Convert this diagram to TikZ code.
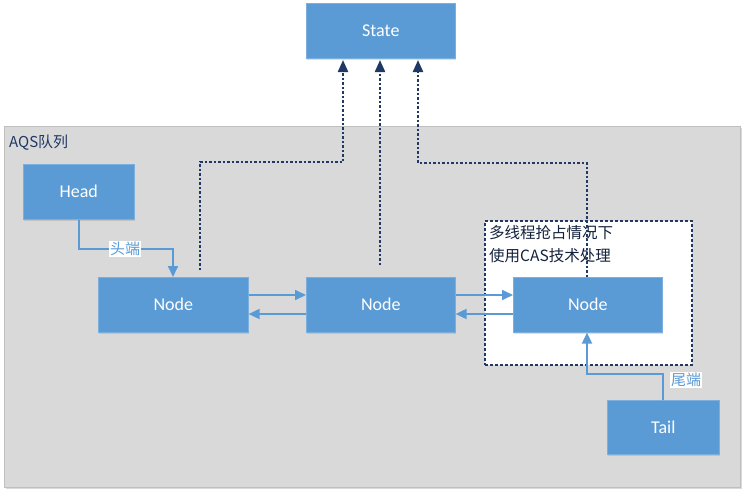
\documentclass[tikz,border=0pt]{standalone}
\usepackage{fontspec}
\setmainfont{Carlito}
\newfontfamily\cjk{Noto Sans CJK SC}
\usetikzlibrary{arrows.meta,shadows}
\definecolor{boxblue}{HTML}{5B9BD5}
\definecolor{navy}{HTML}{1F3864}
\definecolor{bggray}{HTML}{D9D9D9}
\definecolor{bgedge}{HTML}{BFBFBF}
\tikzset{
  bluebox/.style={draw=boxblue!80!white, line width=0.6pt, fill=boxblue, text=white, font=\fontsize{18}{21}\selectfont,
    drop shadow={shadow xshift=1pt, shadow yshift=-1.5pt, opacity=0.25}},
  link/.style={draw=boxblue, line width=1.8pt, -{Triangle[length=11pt,width=10pt]}},
  dotlink/.style={draw=navy, line width=2.2pt, dash pattern=on 2.5pt off 2pt, -{Triangle[length=12pt,width=10pt]}},
  lab/.style={fill=white, text=boxblue, inner sep=1pt, font=\cjk\fontsize{15}{17}\selectfont},
}
\begin{document}
\begin{tikzpicture}[x=1pt,y=-1pt]
\useasboundingbox (0,0) rectangle (748,493);
% background
\node[draw=bgedge, line width=0.8pt, fill=bggray, minimum width=736pt, minimum height=361pt, anchor=north west, inner sep=0pt,
  drop shadow={shadow xshift=2pt, shadow yshift=-2pt, opacity=0.3}] (queue) at (4,126) {};
\node[anchor=west, text=navy, font=\cjk\fontsize{15}{17}\selectfont, inner sep=0pt] (qlabel) at (9,143) {AQS队列};
% State
\node[bluebox, minimum width=149pt, minimum height=55pt, anchor=north west, inner sep=0pt] (state) at (306,3) {State};
% dashed region
\node[draw=navy, line width=2pt, dash pattern=on 3pt off 2pt, fill=white, minimum width=207pt, minimum height=144pt, anchor=north west, inner sep=0pt] (cas) at (484,220) {};
\node[anchor=north west, align=left, text=navy!60!black, font=\cjk\fontsize{15.5}{23}\selectfont, inner sep=0pt] (castext) at (489,225) {多线程抢占情况下\\使用CAS技术处理};
% boxes
\node[bluebox, minimum width=111pt, minimum height=55pt, anchor=north west, inner sep=0pt] (head) at (23,164) {Head};
\node[bluebox, minimum width=150pt, minimum height=55pt, anchor=north west, inner sep=0pt] (n1) at (98,277) {Node};
\node[bluebox, minimum width=149pt, minimum height=55pt, anchor=north west, inner sep=0pt] (n2) at (306,277) {Node};
\node[bluebox, minimum width=149pt, minimum height=55pt, anchor=north west, inner sep=0pt] (n3) at (513,277) {Node};
\node[bluebox, minimum width=112pt, minimum height=54pt, anchor=north west, inner sep=0pt] (tail) at (607,400) {Tail};
% dotted links to State
\coordinate (s1) at (343,60);
\coordinate (s2) at (380,60);
\coordinate (s3) at (418,60);
\coordinate (d1) at (200,270);
\coordinate (d2) at (380,265);
\draw[dotlink] (d1) |- (343,162) -- (s1);
\draw[dotlink] (d2) -- (s2);
\draw[dotlink] (n3.north -| 587,0) |- (418,163) -- (s3);
% head / tail links
\draw[link] (head.south -| 79,0) |- (173,249) -- (n1.north -| 173,0);
\node[lab] (headlab) at (125,249) {头端};
\draw[link] (tail.north -| 663,0) |- (587,374) -- (n3.south -| 587,0);
\node[lab] (taillab) at (686,380) {尾端};
% node links
\draw[link] (n1.east |- 0,295) -- (n2.west |- 0,295);
\draw[link] (n2.west |- 0,314) -- (n1.east |- 0,314);
\draw[link] (n2.east |- 0,295) -- (n3.west |- 0,295);
\draw[link] (n3.west |- 0,314) -- (n2.east |- 0,314);
\end{tikzpicture}
\end{document}
